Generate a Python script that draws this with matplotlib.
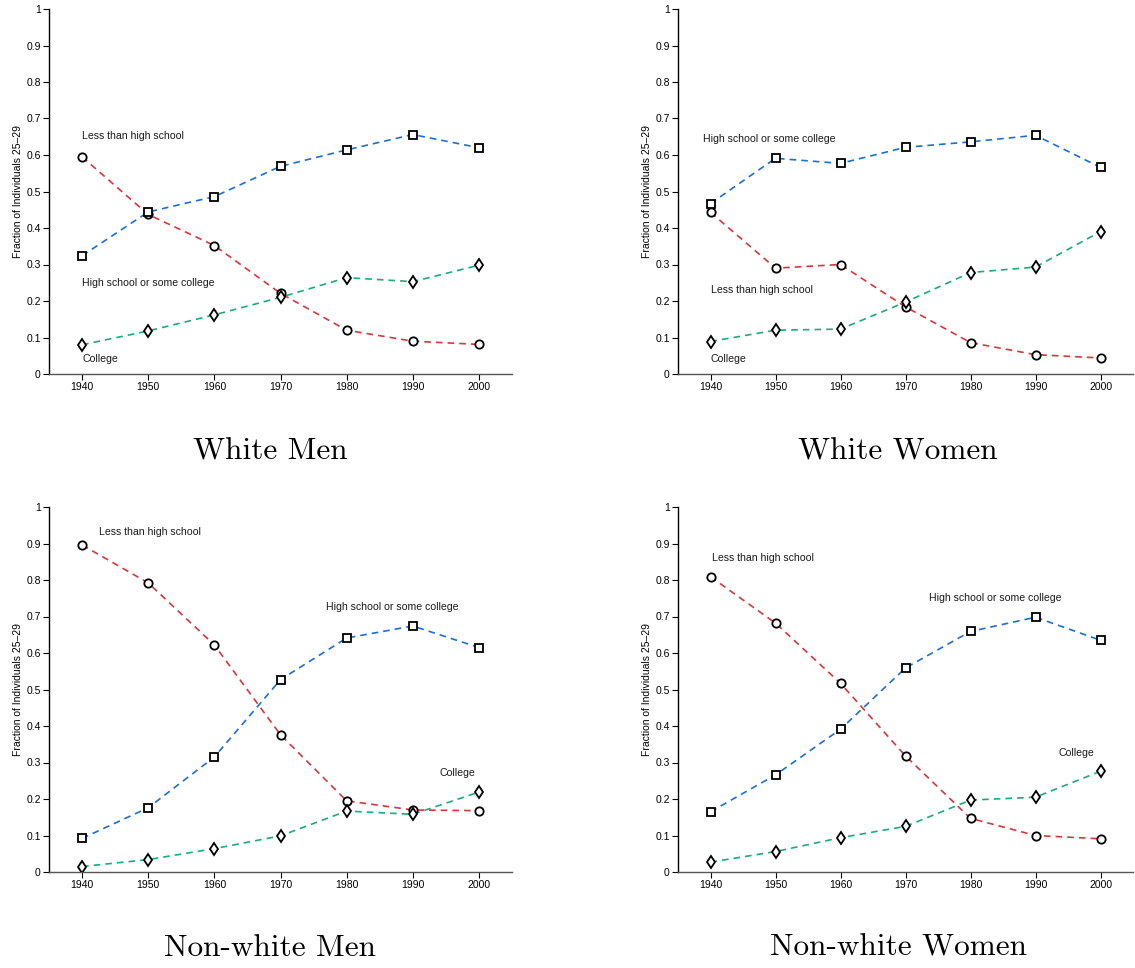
import numpy as np
import matplotlib
matplotlib.use("Agg")
import matplotlib.pyplot as plt

plt.rcParams['font.family'] = ['Liberation Sans', 'DejaVu Sans']

years = [1940, 1950, 1960, 1970, 1980, 1990, 2000]

# white men
wm_less = [0.595, 0.437, 0.352, 0.221, 0.120, 0.090, 0.081]
wm_hs = [0.324, 0.444, 0.486, 0.569, 0.614, 0.656, 0.620]
wm_col = [0.080, 0.118, 0.162, 0.210, 0.264, 0.253, 0.298]

# white women
ww_less = [0.443, 0.290, 0.300, 0.184, 0.086, 0.053, 0.044]
ww_hs = [0.467, 0.591, 0.577, 0.621, 0.636, 0.654, 0.566]
ww_col = [0.089, 0.120, 0.123, 0.197, 0.278, 0.293, 0.390]

# non-white men
nm_less = [0.896, 0.792, 0.622, 0.376, 0.195, 0.170, 0.168]
nm_hs = [0.092, 0.176, 0.315, 0.527, 0.641, 0.674, 0.615]
nm_col = [0.015, 0.034, 0.064, 0.099, 0.167, 0.158, 0.219]

# non-white women
nw_less = [0.809, 0.682, 0.517, 0.318, 0.147, 0.100, 0.091]
nw_hs = [0.165, 0.266, 0.391, 0.559, 0.659, 0.698, 0.635]
nw_col = [0.027, 0.056, 0.094, 0.125, 0.197, 0.205, 0.276]

titles = ['White Men', 'White Women', 'Non-white Men', 'Non-white Women']

# label positions (x, y) for less / hs / college
labels_pos = [
    [(1940, 0.652), (1940, 0.250), (1940, 0.040)],
    [(1940.1, 0.229), (1938.8, 0.643), (1940, 0.040)],
    [(1942.6, 0.932), (1976.9, 0.726), (1994.1, 0.271)],
    [(1940.3, 0.860), (1973.6, 0.750), (1993.6, 0.325)],
]

RED = '#d7363a'
BLUE = '#1a6fd6'
GREEN = '#17ad7c'


def draw(ax, less, hs, col, pos):
    ax.plot(years, less, '--', color=RED, lw=1.2, dashes=(4, 3), zorder=1)
    ax.plot(years, hs, '--', color=BLUE, lw=1.2, dashes=(4, 3), zorder=1)
    ax.plot(years, col, '--', color=GREEN, lw=1.2, dashes=(4, 3), zorder=1)
    ax.plot(years, less, 'o', ms=6, mfc='white', mec='black', mew=1.3, ls='none', zorder=2)
    ax.plot(years, hs, 's', ms=5.5, mfc='white', mec='black', mew=1.3, ls='none', zorder=2)
    ax.plot(years, col, 'd', ms=6.5, mfc='white', mec='black', mew=1.3, ls='none', zorder=2)
    names = ['Less than high school', 'High school or some college', 'College']
    for name, (x, y) in zip(names, pos):
        ax.text(x, y, name, fontsize=7.6, va='center', ha='left', color='#1a1a1a')
    ax.set_xlim(1935, 2005)
    ax.set_ylim(0, 1)
    ax.set_xticks(years)
    ax.set_yticks(np.arange(0, 1.01, 0.1))
    ax.set_yticklabels(['0', '0.1', '0.2', '0.3', '0.4', '0.5', '0.6', '0.7', '0.8', '0.9', '1'])
    ax.tick_params(labelsize=7.5, length=4, width=0.8, pad=2)
    ax.spines['top'].set_visible(False)
    ax.spines['right'].set_visible(False)
    ax.spines['left'].set_linewidth(1.0)
    ax.spines['bottom'].set_linewidth(1.0)
    ax.spines['bottom'].set_color('#555555')
    ax.set_ylabel('Fraction of Individuals 25\u201329', fontsize=7.5, labelpad=2)


fig = plt.figure(figsize=(11.35, 9.68), dpi=100)

W, H = 1135.0, 968.0
boxes = [
    (49, 512, 9, 374),
    (678, 1133, 9, 374),
    (49, 512, 507, 872),
    (678, 1133, 507, 872),
]
data = [
    (wm_less, wm_hs, wm_col),
    (ww_less, ww_hs, ww_col),
    (nm_less, nm_hs, nm_col),
    (nw_less, nw_hs, nw_col),
]
title_xy = [(270, 452), (898, 452), (270, 948), (898, 948)]

for i in range(4):
    l, r, t, b = boxes[i]
    ax = fig.add_axes([l / W, 1 - b / H, (r - l) / W, (b - t) / H])
    draw(ax, data[i][0], data[i][1], data[i][2], labels_pos[i])
    tx, ty = title_xy[i]
    fig.text(tx / W, 1 - ty / H, titles[i], family=['cmr10', 'DejaVu Serif'],
             fontsize=22.5, ha='center', va='center')

fig.savefig('out.png', dpi=100)
